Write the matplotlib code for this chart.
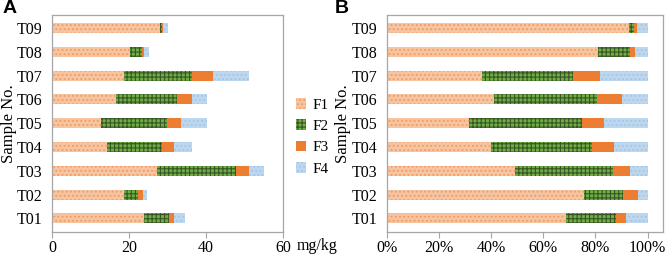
import matplotlib.pyplot as plt
from matplotlib.ticker import PercentFormatter

plt.rcParams["hatch.linewidth"] = 0.8

samples = ["T01", "T02", "T03", "T04", "T05", "T06", "T07", "T08", "T09"]
fractions = ["F1", "F2", "F3", "F4"]

# panel A: concentrations, mg/kg
conc_f1 = [23.8, 18.8, 27.2, 14.4, 12.8, 16.6, 18.8, 20.3, 28.1]
conc_f2 = [6.7, 3.5, 20.6, 14.2, 17.2, 15.8, 17.7, 3.1, 0.5]
conc_f3 = [1.2, 1.4, 3.5, 3.2, 3.6, 3.9, 5.3, 0.5, 0.3]
conc_f4 = [2.9, 1.1, 3.9, 4.6, 6.8, 4.0, 9.5, 1.2, 1.3]

# panel B: proportions, %
pct_f1 = [68.7, 75.6, 49.2, 40.1, 31.4, 41.1, 36.6, 81.1, 92.8]
pct_f2 = [19.1, 15.1, 37.5, 38.6, 43.4, 39.6, 35.0, 12.2, 2.0]
pct_f3 = [4.0, 5.5, 6.6, 8.5, 8.5, 9.5, 10.1, 1.8, 1.0]
pct_f4 = [8.2, 3.8, 6.7, 12.8, 16.7, 9.8, 18.3, 4.9, 4.2]

face = ["#F7C4A0", "#70AD47", "#ED7D31", "#BDD7EE"]
hatch_col = ["#F09A62", "#375623", "#ED7D31", "#A3C4EA"]
hatches = ["....", "++++", None, "...."]
serif = "Liberation Serif"
fs = 11.5


def stacked(ax, series):
    y = list(range(len(samples)))
    left = [0.0] * len(samples)
    handles = []
    for i, vals in enumerate(series):
        h = ax.barh(y, vals, left=left, height=0.42, color=face[i],
                    edgecolor=hatch_col[i], linewidth=0, hatch=hatches[i],
                    label=fractions[i])
        handles.append(h)
        left = [a + b for a, b in zip(left, vals)]
    ax.set_yticks(y)
    ax.set_yticklabels(samples, fontfamily=serif, fontsize=fs)
    ax.set_ylim(-0.58, 8.55)
    ax.tick_params(axis="y", length=0, pad=7)
    ax.tick_params(axis="x", length=4, color="#A6A6A6", labelsize=fs, pad=1.5)
    for s in ax.spines.values():
        s.set_color("#A6A6A6")
        s.set_linewidth(0.9)
    ax.set_ylabel("Sample No.", fontfamily=serif, fontsize=12, labelpad=0)
    return handles


fig = plt.figure(figsize=(6.71, 2.58), dpi=100)
axA = fig.add_axes([0.0775, 0.1, 0.344, 0.842])
axB = fig.add_axes([0.5763, 0.1, 0.412, 0.842])

handles = stacked(axA, [conc_f1, conc_f2, conc_f3, conc_f4])
axA.set_xlim(0, 60)
axA.set_xticks([0, 20, 40, 60])
for lab in axA.get_xticklabels():
    lab.set_fontfamily(serif)
fig.text(0.442, 0.045, "mg/kg", fontfamily=serif, fontsize=fs, va="center")

stacked(axB, [pct_f1, pct_f2, pct_f3, pct_f4])
axB.set_xlim(0, 106)
axB.set_xticks([0, 20, 40, 60, 80, 100])
axB.xaxis.set_major_formatter(PercentFormatter(decimals=0))
for lab in axB.get_xticklabels():
    lab.set_fontfamily(serif)

fig.legend(handles=handles, loc="center left", bbox_to_anchor=(0.42, 0.47),
           frameon=False, prop={"family": serif, "size": 11},
           handlelength=0.7, handleheight=0.7, handletextpad=0.4,
           labelspacing=0.5)

fig.text(0.004, 1.0, "A", fontsize=14, fontweight="bold",
         fontfamily="Liberation Sans", va="top")
fig.text(0.499, 1.0, "B", fontsize=14, fontweight="bold",
         fontfamily="Liberation Sans", va="top")

fig.savefig("out.png", dpi=100)
